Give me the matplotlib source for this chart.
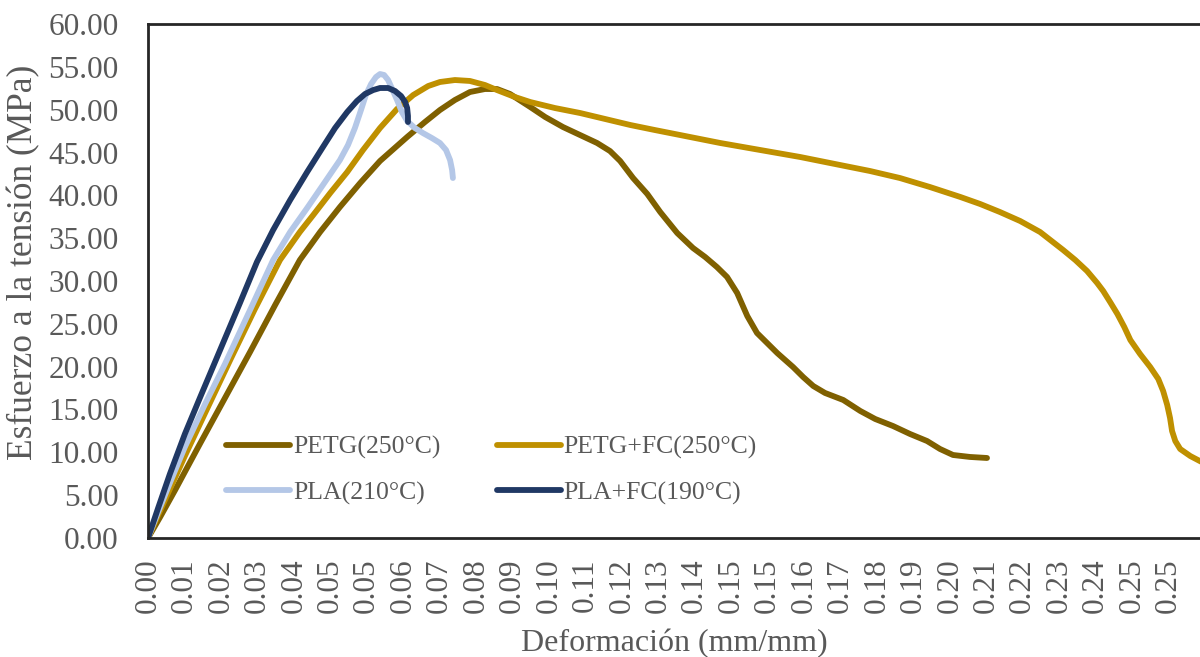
import numpy as np
import matplotlib
matplotlib.use("Agg")
import matplotlib.pyplot as plt

# Curvas esfuerzo-deformación (deformación en mm/mm, esfuerzo en MPa)
petg_x = [0.0, 0.0030, 0.0067, 0.0128, 0.0190, 0.0252, 0.0314, 0.0375, 0.0425,
          0.0474, 0.0524, 0.0573, 0.0640, 0.0684, 0.0721, 0.0758, 0.0795, 0.0832,
          0.0862, 0.0894, 0.0944, 0.0981, 0.1025, 0.1067, 0.1109, 0.1141, 0.1166,
          0.1198, 0.1233, 0.1265, 0.1307, 0.1346, 0.1376, 0.1405, 0.1430, 0.1455,
          0.1480, 0.1504, 0.1529, 0.1554, 0.1593, 0.1618, 0.1643, 0.1672, 0.1717,
          0.1759, 0.1796, 0.1840, 0.1882, 0.1924, 0.1956, 0.1988, 0.2030, 0.2072]
petg_y = [0.0, 2.45, 5.60, 10.97, 16.34, 21.71, 27.20, 32.45, 35.72,
          38.64, 41.44, 44.01, 46.81, 48.56, 49.96, 51.13, 52.06, 52.41,
          52.41, 51.83, 50.31, 49.14, 47.97, 47.04, 46.11, 45.17, 44.01,
          42.02, 40.16, 38.05, 35.60, 33.85, 32.80, 31.63, 30.47, 28.60,
          25.91, 23.93, 22.76, 21.59, 19.96, 18.79, 17.74, 16.93, 16.11,
          14.83, 13.89, 13.07, 12.14, 11.32, 10.39, 9.69, 9.46, 9.34]

petg_fc_x = [0.0, 0.0025, 0.0054, 0.0091, 0.0141, 0.0203, 0.0264, 0.0326, 0.0375,
             0.0408, 0.0450, 0.0492, 0.0531, 0.0573, 0.0615, 0.0655, 0.0692, 0.0721,
             0.0758, 0.0795, 0.0832, 0.0862, 0.0906, 0.0944, 0.1005, 0.1067, 0.1129,
             0.1191, 0.1252, 0.1314, 0.1413, 0.1512, 0.1610, 0.1709, 0.1783, 0.1857,
             0.1931, 0.2006, 0.2055, 0.2104, 0.2154, 0.2203, 0.2260, 0.2290, 0.2319,
             0.2344, 0.2359, 0.2376, 0.2394, 0.2411, 0.2426, 0.2450, 0.2475, 0.2495,
             0.2507, 0.2517, 0.2524, 0.2529, 0.2537, 0.2549, 0.2574, 0.2605]
petg_fc_y = [0.0, 2.69, 5.72, 9.57, 14.59, 20.78, 26.73, 32.45, 35.72,
             37.70, 40.27, 42.72, 45.29, 47.86, 50.08, 51.71, 52.76, 53.23,
             53.46, 53.35, 52.88, 52.29, 51.48, 50.89, 50.19, 49.61, 48.91,
             48.21, 47.62, 47.04, 46.11, 45.29, 44.48, 43.54, 42.84, 42.02,
             40.97, 39.81, 38.99, 38.05, 37.00, 35.72, 33.62, 32.45, 31.17,
             29.77, 28.83, 27.55, 26.15, 24.63, 23.11, 21.48, 19.96, 18.56,
             17.16, 15.53, 14.01, 12.49, 11.32, 10.39, 9.57, 8.80]

pla_x = [0.0, 0.0025, 0.0054, 0.0091, 0.0141, 0.0190, 0.0252, 0.0309, 0.0351,
         0.0393, 0.0432, 0.0474, 0.0494, 0.0511, 0.0526, 0.0538, 0.0551, 0.0563,
         0.0573, 0.0583, 0.0593, 0.0603, 0.0615, 0.0627, 0.0640, 0.0659, 0.0679,
         0.0701, 0.0721, 0.0736, 0.0746, 0.0751, 0.0753]
pla_y = [0.0, 3.03, 6.42, 10.62, 15.64, 20.31, 26.61, 32.45, 35.72,
         38.52, 41.21, 44.12, 45.88, 47.86, 49.96, 51.71, 53.00, 53.81,
         54.16, 54.05, 53.46, 52.41, 51.13, 49.73, 48.68, 47.86, 47.27,
         46.69, 46.11, 45.29, 44.12, 42.96, 42.02]

pla_fc_x = [0.0, 0.0025, 0.0054, 0.0091, 0.0128, 0.0178, 0.0227, 0.0269, 0.0309,
            0.0351, 0.0393, 0.0432, 0.0462, 0.0492, 0.0516, 0.0536, 0.0556, 0.0573,
            0.0593, 0.0610, 0.0625, 0.0635, 0.0640, 0.0642, 0.0642]
pla_fc_y = [0.0, 3.50, 7.47, 12.14, 16.34, 21.94, 27.43, 32.22, 35.95,
            39.45, 42.72, 45.64, 47.86, 49.73, 51.01, 51.83, 52.29, 52.53,
            52.53, 52.18, 51.59, 50.89, 50.19, 49.26, 48.56]

x_tick_labels = ["0.00", "0.01", "0.02", "0.03", "0.04", "0.05", "0.05", "0.06",
                 "0.07", "0.08", "0.09", "0.10", "0.11", "0.12", "0.13", "0.14",
                 "0.15", "0.15", "0.16", "0.17", "0.18", "0.19", "0.20", "0.21",
                 "0.22", "0.23", "0.24", "0.25", "0.25"]

series = [
    ("PETG(250°C)", petg_x, petg_y, "#7F6000"),
    ("PETG+FC(250°C)", petg_fc_x, petg_fc_y, "#BF9000"),
    ("PLA(210°C)", pla_x, pla_y, "#B4C7E7"),
    ("PLA+FC(190°C)", pla_fc_x, pla_fc_y, "#203864"),
]

plt.rcParams["font.family"] = ["Liberation Serif", "DejaVu Serif"]
gray = "#595959"

fig = plt.figure(figsize=(12, 6.57), dpi=100)
ax = fig.add_axes([148 / 1200, 1 - 538 / 657, 1 - 148 / 1200, (538 - 24) / 657])

lines = {}
for label, xs, ys, color in series:
    lines[label], = ax.plot(xs, ys, color=color, lw=4.2, label=label,
                            solid_capstyle="round", solid_joinstyle="round")

ax.set_xlim(0, 0.2598)
ax.set_ylim(0, 60)
ax.set_yticks(np.arange(0, 61, 5))
ax.set_yticklabels([f"{v:.2f}" for v in np.arange(0, 61, 5)])
ax.set_xticks(np.arange(len(x_tick_labels)) * 0.009)
ax.set_xticklabels(x_tick_labels, rotation=90)
ax.tick_params(axis="both", length=0, labelsize=22.5, labelcolor=gray)
ax.tick_params(axis="y", pad=21)
ax.tick_params(axis="x", pad=15)

for side in ["left", "top", "bottom"]:
    ax.spines[side].set_color("#262626")
    ax.spines[side].set_linewidth(2)
ax.spines["right"].set_visible(False)

ax.set_xlabel("Deformación (mm/mm)", fontsize=23, color=gray, labelpad=11)
ax.set_ylabel("Esfuerzo a la tensión (MPa)", fontsize=25.5, color=gray)
ax.yaxis.set_label_coords(-0.1027, 0.537)

# two columns, filled row by row
order = ["PETG(250°C)", "PLA(210°C)", "PETG+FC(250°C)", "PLA+FC(190°C)"]
leg = ax.legend([lines[k] for k in order], order,
                loc="upper left", bbox_to_anchor=(226 / 1200, 1 - 436 / 657),
                bbox_transform=fig.transFigure, ncol=2, frameon=False,
                fontsize=18.5, handlelength=2.5, handletextpad=0.1,
                columnspacing=2.2, labelspacing=0.85, borderpad=0,
                borderaxespad=0)
for t in leg.get_texts():
    t.set_color(gray)

fig.savefig("out.png", dpi=100)
